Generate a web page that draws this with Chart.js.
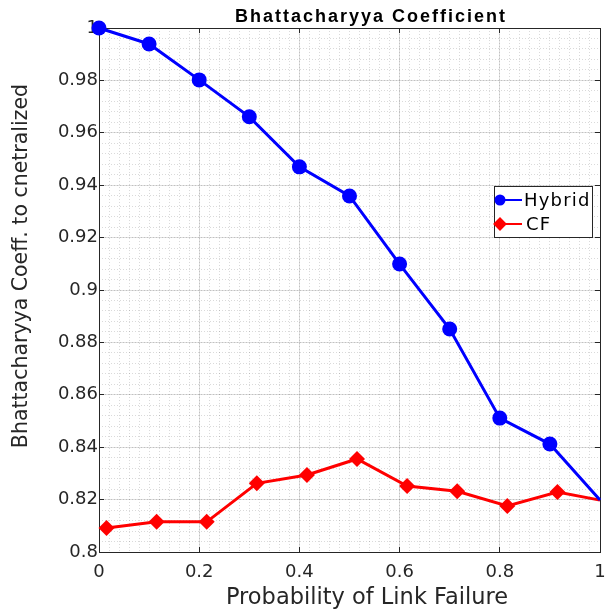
<!DOCTYPE html>
<html>
<head>
<meta charset="utf-8">
<script src="https://cdn.jsdelivr.net/npm/chart.js@4.4.0/dist/chart.umd.min.js"></script>
<style>
  html, body { margin: 0; padding: 0; background: #fff; }
</style>
</head>
<body>
<canvas id="chart" width="608" height="609"></canvas>
<script>
const chartTitle = "Bhattacharyya Coefficient";
const xTitle = "Probability of Link Failure";
const yTitle = "Bhattacharyya Coeff. to cnetralized";

const hybridX = [0, 0.1, 0.2, 0.3, 0.4, 0.5, 0.6, 0.7, 0.8, 0.9, 1.0];
const hybridY = [1.0, 0.9939, 0.9802, 0.9661, 0.947, 0.9359, 0.9099, 0.8851, 0.8511, 0.8412, 0.8198];
const cfX = [0.015, 0.115, 0.215, 0.315, 0.415, 0.515, 0.615, 0.715, 0.815, 0.915, 1.0];
const cfY = [0.8092, 0.8115, 0.8115, 0.8262, 0.8294, 0.8355, 0.8252, 0.8232, 0.8176, 0.8229, 0.8198];

const xMin = 0, xMax = 1, xStep = 0.2, xMinorStep = 0.02;
const yMin = 0.8, yMax = 1, yStep = 0.02, yMinorStep = 0.004;

const axisColor = "#262626";
const majorGrid = "rgba(38,38,38,0.15)";
const minorGrid = "rgba(38,38,38,0.17)";

function toPoints(xs, ys) {
  return xs.map((x, i) => ({ x: x, y: ys[i] }));
}

// last points sit on the right border: no marker there
function radii(n, r) {
  return Array.from({ length: n }, (_, i) => (i === n - 1 ? 0 : r));
}

function fmt(v) {
  return String(Math.round(v * 1000) / 1000);
}

const titleAndLegend = {
  id: "titleAndLegend",
  afterDraw(chart) {
    const ctx = chart.ctx;
    ctx.save();
    ctx.fillStyle = "#000";
    ctx.font = 'bold 18px "Liberation Sans"';
    ctx.letterSpacing = "2px";
    ctx.textAlign = "center";
    ctx.textBaseline = "alphabetic";
    ctx.fillText(chartTitle, 371, 22);

    // axis titles
    ctx.fillStyle = axisColor;
    ctx.letterSpacing = "0px";
    ctx.font = '22.5px "DejaVu Sans"';
    ctx.fillText(xTitle, 367, 604);
    ctx.translate(27, 266);
    ctx.rotate(-Math.PI / 2);
    ctx.font = '20.5px "DejaVu Sans"';
    ctx.fillText(yTitle, 0, 0);
    ctx.restore();

    // legend box
    ctx.save();
    ctx.fillStyle = "#fff";
    ctx.strokeStyle = axisColor;
    ctx.lineWidth = 1;
    ctx.fillRect(494.5, 186.5, 98, 51);
    ctx.strokeRect(494.5, 186.5, 98, 51);
    const rows = [200, 224];
    chart.data.datasets.forEach((ds, i) => {
      const y = rows[i];
      ctx.strokeStyle = ds.borderColor;
      ctx.lineWidth = 2;
      ctx.beginPath();
      ctx.moveTo(497, y);
      ctx.lineTo(522, y);
      ctx.stroke();
      ctx.fillStyle = ds.backgroundColor;
      ctx.strokeStyle = ds.borderColor;
      Chart.helpers.drawPoint(ctx, {
        pointStyle: ds.pointStyle,
        radius: ds.pointStyle === "circle" ? 4.5 : 5.5,
        rotation: 0,
        borderWidth: 1
      }, 500, y);
      ctx.fillStyle = "#000";
      ctx.font = '18px "DejaVu Sans"';
      ctx.letterSpacing = "1.2px";
      ctx.textAlign = "left";
      ctx.textBaseline = "middle";
      ctx.fillText(ds.label, i === 0 ? 524 : 526, y + 1);
    });
    ctx.restore();
  }
};

// fixed axis sizes so the plot box lands where the reference has it
const fixSize = (size) => (scale) => {
  if (scale.isHorizontal()) scale.height = size;
  else scale.width = size;
  scale.paddingLeft = 0;
  scale.paddingRight = 0;
  scale.paddingTop = 0;
  scale.paddingBottom = 0;
};

const tickFont = { family: "DejaVu Sans", size: 18 };

new Chart(document.getElementById("chart"), {
  type: "line",
  data: {
    datasets: [
      {
        label: "Hybrid",
        data: toPoints(hybridX, hybridY),
        borderColor: "#0000ff",
        backgroundColor: "#0000ff",
        borderWidth: 3,
        pointStyle: "circle",
        pointRadius: radii(hybridX.length, 7.5),
        pointBorderWidth: 0,
        clip: false
      },
      {
        label: "CF",
        data: toPoints(cfX, cfY),
        borderColor: "#ff0000",
        backgroundColor: "#ff0000",
        borderWidth: 3,
        pointStyle: "rectRot",
        pointRadius: radii(cfX.length, 8),
        pointBorderWidth: 0,
        clip: false
      }
    ]
  },
  options: {
    responsive: false,
    animation: false,
    devicePixelRatio: 1,
    layout: { padding: { top: 28, right: 5, bottom: 0, left: 0 } },
    plugins: {
      legend: { display: false },
      title: { display: false },
      tooltip: { enabled: false }
    },
    scales: {
      xMinor: {
        type: "linear", position: "bottom", min: xMin, max: xMax,
        ticks: { display: false, stepSize: xMinorStep, maxTicksLimit: 200 },
        grid: { color: minorGrid, lineWidth: 1, drawTicks: false },
        border: { display: false, dash: [1, 2] },
        afterFit: fixSize(0)
      },
      yMinor: {
        type: "linear", position: "left", min: yMin, max: yMax,
        ticks: { display: false, stepSize: yMinorStep, maxTicksLimit: 200 },
        grid: { color: minorGrid, lineWidth: 1, drawTicks: false },
        border: { display: false, dash: [1, 2] },
        afterFit: fixSize(0)
      },
      x: {
        type: "linear", position: "bottom", min: xMin, max: xMax,
        ticks: { stepSize: xStep, color: axisColor, font: tickFont, padding: 15, maxRotation: 0, callback: fmt },
        grid: { color: majorGrid, tickColor: axisColor, tickLength: -5 },
        border: { display: true, color: axisColor, width: 1 },
        afterFit: fixSize(57)
      },
      y: {
        type: "linear", position: "left", min: yMin, max: yMax,
        ticks: { stepSize: yStep, color: axisColor, font: tickFont, padding: 6, callback: fmt },
        grid: { color: majorGrid, tickColor: axisColor, tickLength: -5 },
        border: { display: true, color: axisColor, width: 1 },
        afterFit: fixSize(99)
      },
      xTop: {
        type: "linear", position: "top", min: xMin, max: xMax,
        ticks: { display: false, stepSize: xStep },
        grid: { drawOnChartArea: false, tickColor: axisColor, tickLength: -5 },
        border: { display: true, color: axisColor, width: 1 },
        afterFit: fixSize(0)
      },
      yRight: {
        type: "linear", position: "right", min: yMin, max: yMax,
        ticks: { display: false, stepSize: yStep },
        grid: { drawOnChartArea: false, tickColor: axisColor, tickLength: -5 },
        border: { display: true, color: axisColor, width: 1 },
        afterFit: fixSize(0)
      }
    }
  },
  plugins: [titleAndLegend]
});
</script>
</body>
</html>
